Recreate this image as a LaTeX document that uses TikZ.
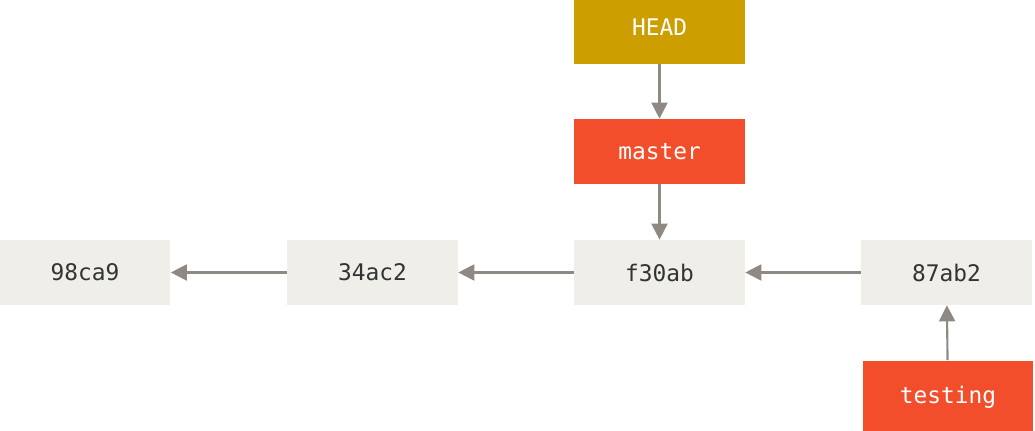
\documentclass[tikz,border=0pt]{standalone}
\usepackage{fontspec}
\setmonofont{DejaVu Sans Mono}
\usetikzlibrary{arrows.meta}
\definecolor{commitbg}{HTML}{EFEEE8}
\definecolor{headbg}{HTML}{CC9E00}
\definecolor{branchbg}{HTML}{F24E2B}
\definecolor{arrowgray}{HTML}{8E8A83}
\definecolor{textdark}{HTML}{333333}
\tikzstyle{block} = [minimum width=3.42cm, minimum height=1.3cm, rectangle, inner sep=0pt, font=\ttfamily\fontsize{13}{15}\selectfont]
\tikzstyle{commit} = [block, fill=commitbg, text=textdark]
\tikzstyle{branch} = [block, fill=branchbg, text=white]
\tikzstyle{head} = [block, fill=headbg, text=white]
\tikzstyle{path} = [-{Triangle[length=3.2mm, width=3.2mm]}, arrowgray, line width=1.2pt]

\begin{document}
\begin{tikzpicture}[x=0.02cm, y=-0.02cm]
    \useasboundingbox (0, 0) rectangle (1035, 431);
    \clip (0, 0) rectangle (1035, 431);

    % Commits.
    \node (98ca9) [commit] at (85, 272.5) {98ca9};
    \node (34ac2) [commit] at (372.5, 272.5) {34ac2};
    \node (f30ab) [commit] at (659.5, 272.5) {f30ab};
    \node (87ab2) [commit] at (946.5, 272.5) {87ab2};

    % Pointers.
    \node (head) [head, minimum height=1.46cm] at (659.5, 27.5) {HEAD};
    \node (master) [branch] at (659.5, 151.5) {master};
    \node (testing) [branch, minimum height=1.46cm] at (948, 397) {testing};
    \coordinate (below) at (948, 440);

    % Connections.
    \draw [path] (34ac2) -- (98ca9);
    \draw [path] (f30ab) -- (34ac2);
    \draw [path] (87ab2) -- (f30ab);
    \draw [path] (head) -- (master);
    \draw [path] (master) -- (f30ab);
    \draw [path] (testing) -- (87ab2);
    \draw [arrowgray, line width=1.2pt] (testing.south) -- (below);
\end{tikzpicture}
\end{document}
